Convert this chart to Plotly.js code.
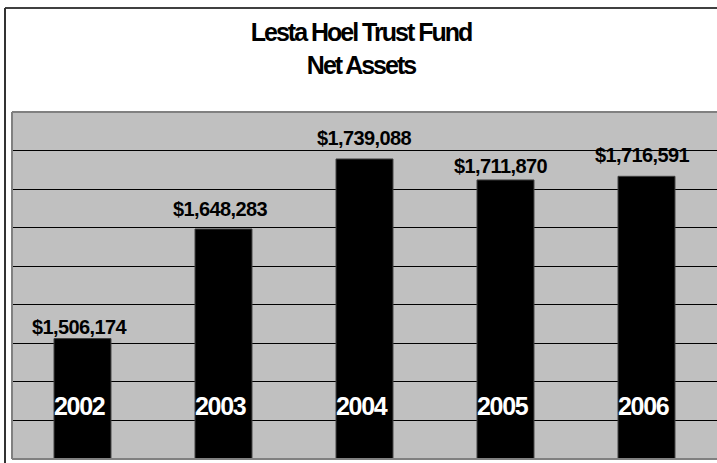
<!DOCTYPE html>
<html>
<head>
<meta charset="utf-8">
<script src="https://cdn.plot.ly/plotly-3.0.1.min.js"></script>
<style>
html,body{margin:0;padding:0;background:#fff;}
#chart{width:717px;height:463px;}
</style>
</head>
<body>
<div id="chart"></div>
<script>
// ---- data ----
var years = ['2002', '2003', '2004', '2005', '2006'];
var netAssets = [1506174, 1648283, 1739088, 1711870, 1716591];
var yMin = 1350000;
var yMax = 1800000;
var yStep = 50000;
var titleLines = ['Lesta Hoel Trust Fund', 'Net Assets'];

// ---- layout ----
var W = 717, H = 463;
var mL = 12, mR = 0, mT = 112, mB = 4;
var pw = W - mL - mR, ph = H - mT - mB;
function px2x(p){ return (p - mL) / pw; }
function px2y(p){ return (H - mB - p) / ph; }

function fmt(v){ return '$' + v.toLocaleString('en-US'); }

// label nudges (pixels), matching the hand-placed labels of the original
var valShiftY = [11.5, 20, 21, 13.5, 21];
var valShiftX = [-3, -3, 0, -5, -4];

var font = 'Arial, "Liberation Sans", sans-serif';
var annotations = [];
years.forEach(function(y, i){
  annotations.push({
    x: i, y: netAssets[i], xref: 'x', yref: 'y',
    text: '<span style="letter-spacing:-0.6px">' + fmt(netAssets[i]) + '</span>',
    showarrow: false, xanchor: 'center', yanchor: 'middle',
    xshift: valShiftX[i], yshift: valShiftY[i],
    font: {family: font, size: 20, color: '#000', weight: 'bold'}
  });
  annotations.push({
    x: i, y: yMin, xref: 'x', yref: 'y',
    text: '<span style="letter-spacing:-1.3px">' + y + '</span>',
    showarrow: false, xanchor: 'center', yanchor: 'middle',
    xshift: -3, yshift: 459 - 406,
    font: {family: font, size: 25, color: '#fff', weight: 'bold'}
  });
});

var shapes = [
  // outer chart border (top and left visible)
  {type: 'line', xref: 'paper', yref: 'paper', x0: px2x(5), x1: px2x(717), y0: px2y(8), y1: px2y(8),
   line: {color: '#000', width: 1.5}},
  {type: 'line', xref: 'paper', yref: 'paper', x0: px2x(5), x1: px2x(5), y0: px2y(8), y1: px2y(463),
   line: {color: '#333', width: 2}},
  // plot area border
  {type: 'line', xref: 'paper', yref: 'paper', x0: 0, x1: 1, y0: 1, y1: 1, line: {color: '#808080', width: 2}},
  {type: 'line', xref: 'paper', yref: 'paper', x0: 0, x1: 0, y0: 0, y1: 1, line: {color: '#808080', width: 2}},
  {type: 'line', xref: 'paper', yref: 'paper', x0: 0, x1: 1, y0: 0, y1: 0, line: {color: '#808080', width: 2}}
];

var trace = {
  type: 'bar', x: years, y: netAssets,
  marker: {color: '#000', line: {color: '#404040', width: 1}},
  hoverinfo: 'skip', cliponaxis: false
};

var layout = {
  width: W, height: H,
  margin: {l: mL, r: mR, t: mT, b: mB, pad: 0},
  paper_bgcolor: '#fff', plot_bgcolor: '#C0C0C0',
  showlegend: false,
  bargap: 0.596,
  title: {
    text: '<span style="letter-spacing:-2px">' + titleLines.join('<br>') + '</span>',
    x: 361 / W, xanchor: 'center', xref: 'container',
    y: 1 - 41 / H, yanchor: 'top', yref: 'container',
    font: {family: font, size: 25, color: '#000', weight: 'bold'}
  },
  xaxis: {type: 'category', range: [-0.5, 4.5], showticklabels: false, ticks: '',
          showgrid: false, zeroline: false, showline: false, fixedrange: true},
  yaxis: {range: [yMin, yMax], dtick: yStep, tick0: yMin, showticklabels: false, ticks: '',
          showgrid: true, gridcolor: '#000', gridwidth: 1, zeroline: false, showline: false, fixedrange: true},
  annotations: annotations,
  shapes: shapes
};

Plotly.newPlot('chart', [trace], layout, {displayModeBar: false, staticPlot: true});
</script>
</body>
</html>
